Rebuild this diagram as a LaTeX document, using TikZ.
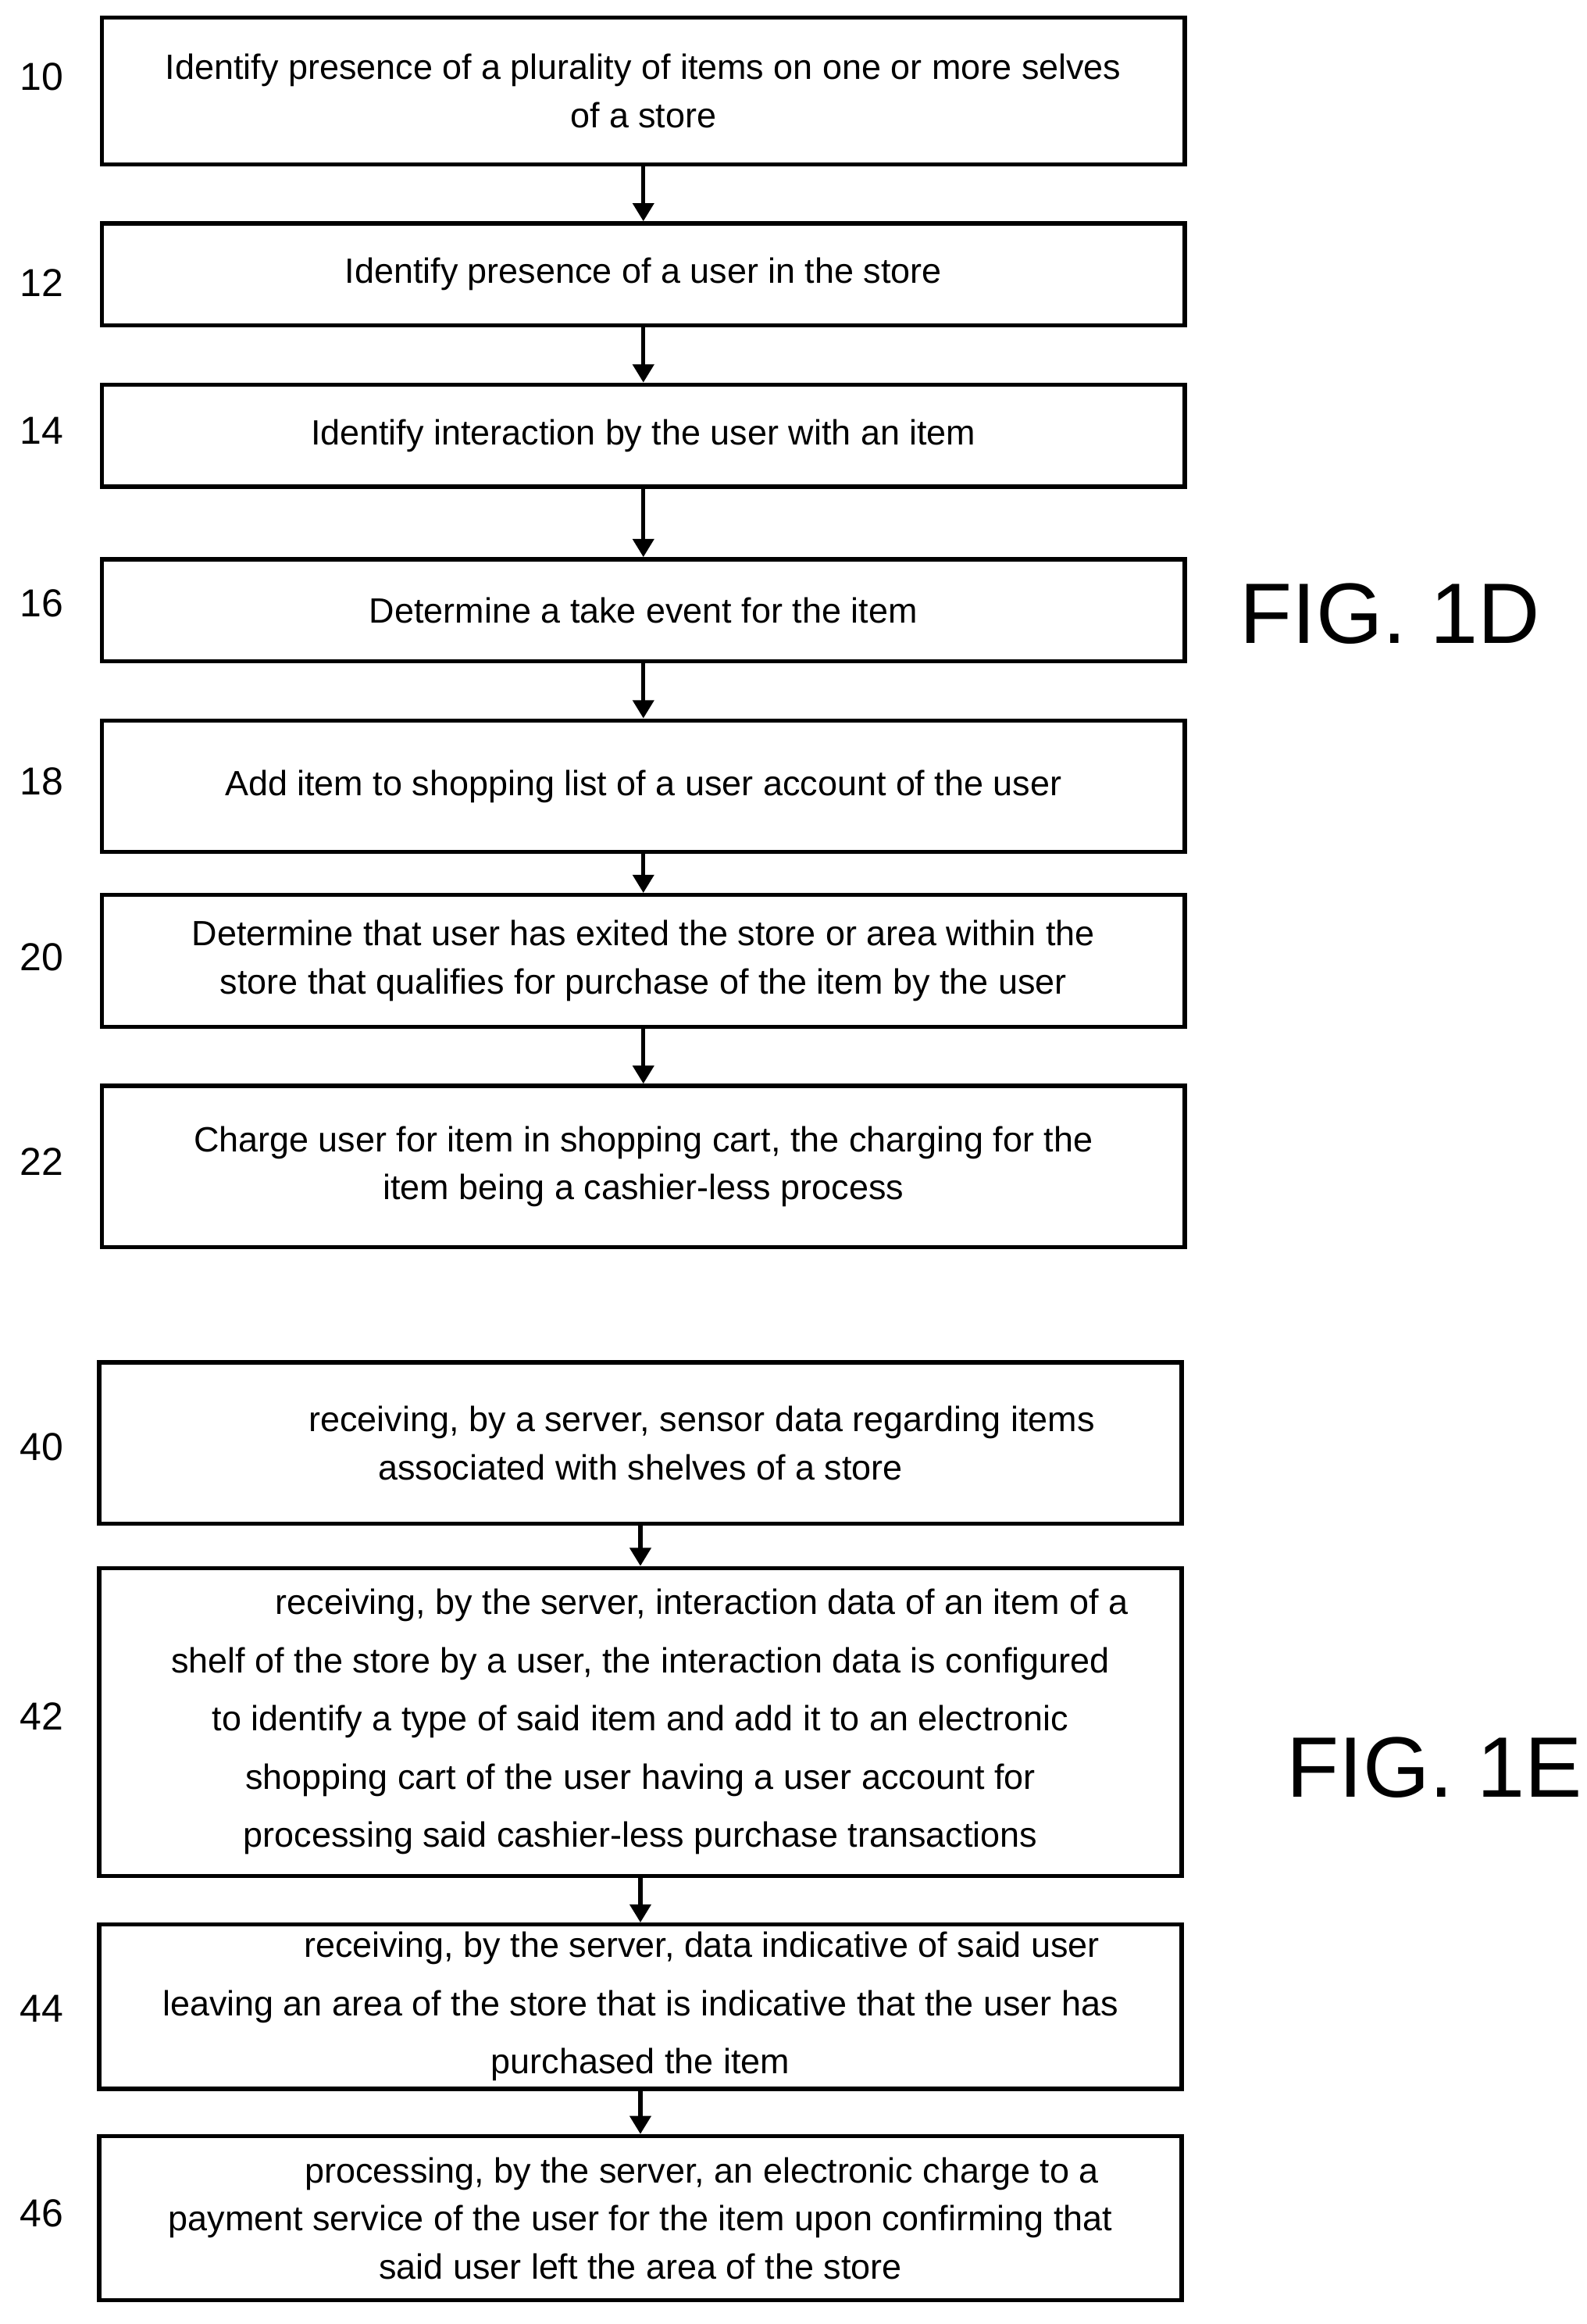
\documentclass[tikz,border=0pt]{standalone}
\usepackage{fontspec}
\setmainfont{Liberation Sans}
\usetikzlibrary{arrows.meta}
\begin{document}
\begin{tikzpicture}[
  box/.style={draw, line width=1.6pt, minimum width=14.64cm, align=center,
    font=\fontsize{13.5}{18.5}\selectfont, inner sep=0pt},
  stepnum/.style={font=\fontsize{15}{18}\selectfont},
  fig/.style={font=\fontsize{33}{36}\selectfont},
  flow/.style={line width=1.6pt, -{Triangle[length=7pt, width=8pt]}}
]
  \useasboundingbox (0,0) rectangle (21.46,-31.42);

  % FIG. 1D
  \node[box, minimum height=1.98cm] (s10) at (8.70,-1.23) {Identify presence of a plurality of items on one or more selves\\of a store};
  \node[box, minimum height=1.38cm] (s12) at (8.70,-3.71) {Identify presence of a user in the store};
  \node[box, minimum height=1.38cm] (s14) at (8.70,-5.89) {Identify interaction by the user with an item};
  \node[box, minimum height=1.38cm] (s16) at (8.70,-8.25) {Determine a take event for the item};
  \node[box, minimum height=1.78cm] (s18) at (8.70,-10.63) {Add item to shopping list of a user account of the user};
  \node[box, minimum height=1.78cm] (s20) at (8.70,-12.99) {Determine that user has exited the store or area within the\\store that qualifies for purchase of the item by the user};
  \node[box, minimum height=2.18cm] (s22) at (8.70,-15.77) {Charge user for item in shopping cart, the charging for the\\item being a cashier-less process};

  \node[stepnum] (n10) at (0.56,-1.04) {10};
  \node[stepnum] (n12) at (0.56,-3.82) {12};
  \node[stepnum] (n14) at (0.56,-5.82) {14};
  \node[stepnum] (n16) at (0.56,-8.16) {16};
  \node[stepnum] (n18) at (0.56,-10.56) {18};
  \node[stepnum] (n20) at (0.56,-12.94) {20};
  \node[stepnum] (n22) at (0.56,-15.70) {22};
  \node[fig] (fig1d) at (18.80,-8.30) {FIG. 1D};

  \draw[flow] (s10) -- (s12);
  \draw[flow] (s12) -- (s14);
  \draw[flow] (s14) -- (s16);
  \draw[flow] (s16) -- (s18);
  \draw[flow] (s18) -- (s20);
  \draw[flow] (s20) -- (s22);

  % FIG. 1E
  \node[box, minimum height=2.18cm] (s40) at (8.66,-19.51) {\hspace*{3.5em}receiving, by a server, sensor data regarding items\\associated with shelves of a store};
  \node[box, minimum height=4.16cm, font=\fontsize{13.5}{22.4}\selectfont] (s42) at (8.66,-23.28) {\hspace*{3.5em}receiving, by the server, interaction data of an item of a\\shelf of the store by a user, the interaction data is configured\\to identify a type of said item and add it to an electronic\\shopping cart of the user having a user account for\\processing said cashier-less purchase transactions};
  \node[box, minimum height=2.22cm, font=\fontsize{13.5}{22.4}\selectfont] (s44) at (8.66,-27.13) {\hspace*{3.5em}receiving, by the server, data indicative of said user\\leaving an area of the store that is indicative that the user has\\purchased the item};
  \node[box, minimum height=2.22cm] (s46) at (8.66,-29.99) {\hspace*{3.5em}processing, by the server, an electronic charge to a\\payment service of the user for the item upon confirming that\\said user left the area of the store};

  \node[stepnum] (n40) at (0.56,-19.56) {40};
  \node[stepnum] (n42) at (0.56,-23.20) {42};
  \node[stepnum] (n44) at (0.56,-27.16) {44};
  \node[stepnum] (n46) at (0.56,-29.92) {46};
  \node[fig] (fig1e) at (19.40,-23.90) {FIG. 1E};

  \draw[flow] (s40) -- (s42);
  \draw[flow] (s42) -- (s44);
  \draw[flow] (s44) -- (s46);
\end{tikzpicture}
\end{document}
